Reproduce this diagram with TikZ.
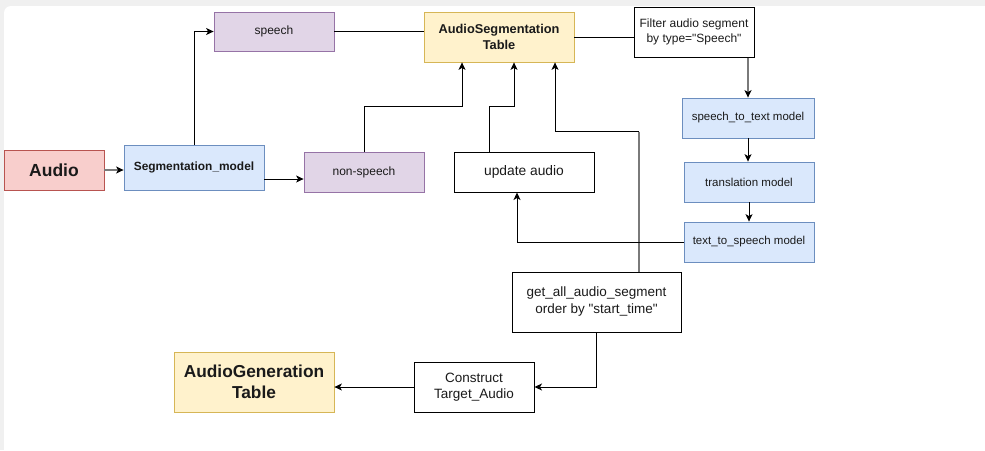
\documentclass[tikz,border=0pt]{standalone}
\usepackage{fontspec}
\setmainfont{Liberation Sans}
\usetikzlibrary{arrows.meta,calc}
\definecolor{redfill}{HTML}{F8CECC}\definecolor{redline}{HTML}{B85450}
\definecolor{bluefill}{HTML}{DAE8FC}\definecolor{blueline}{HTML}{6C8EBF}
\definecolor{purpfill}{HTML}{E1D5E7}\definecolor{purpline}{HTML}{9673A6}
\definecolor{yelfill}{HTML}{FFF2CC}\definecolor{yelline}{HTML}{D6B656}
\definecolor{txt}{HTML}{1A1A1A}
\definecolor{grayline}{HTML}{7A7A7A}
\tikzset{
  box/.style={rectangle,draw,inner sep=0pt,align=center,text=txt,line width=0.8pt},
  redbox/.style={box,fill=redfill,draw=redline},
  bluebox/.style={box,fill=bluefill,draw=blueline},
  purpbox/.style={box,fill=purpfill,draw=purpline},
  yelbox/.style={box,fill=yelfill,draw=yelline},
  plainbox/.style={box,fill=white,draw=black,line width=1pt},
  arr/.style={-{Stealth[length=7.5pt,width=7pt,inset=2pt]},line width=1pt,draw=black},
  grayarr/.style={-{Stealth[length=7.5pt,width=7pt,inset=2pt,color=black]},line width=1.6pt,draw=grayline},
  conn/.style={line width=1pt,draw=black},
  grayconn/.style={line width=1.6pt,draw=grayline},
}
\begin{document}
\begin{tikzpicture}[x=1pt,y=-1pt]
\useasboundingbox (0,0) rectangle (985,450);
\fill[gray!12] (0,0) rectangle (985,450);
\fill[white,rounded corners=7pt] (4,6) rectangle (1000,470);
% nodes
\node[redbox,minimum width=100pt,minimum height=40pt,font=\fontsize{17.5}{20}\selectfont\bfseries] (audio) at (54,170) {Audio};
\node[bluebox,minimum width=140pt,minimum height=45pt,font=\fontsize{11.9}{14}\selectfont\bfseries] (seg) at (194,167.5) {Segmentation\_model};
\node[purpbox,minimum width=120pt,minimum height=39pt,font=\fontsize{12}{14}\selectfont] (speech) at (274,31.5) {speech};
\node[purpbox,minimum width=120pt,minimum height=40pt,font=\fontsize{12}{14}\selectfont] (ns) at (364,172) {non-speech};
\node[yelbox,minimum width=150pt,minimum height=50pt,font=\fontsize{12.8}{15.5}\selectfont\bfseries] (aseg) at (499,37) {AudioSegmentation\\Table};
\node[plainbox,minimum width=120pt,minimum height=50pt,font=\fontsize{12}{15}\selectfont] (filt) at (694,32) {Filter audio segment\\by type=\textquotedbl Speech\textquotedbl};
\node[bluebox,minimum width=132pt,minimum height=40pt,font=\fontsize{11.5}{14}\selectfont] (s2t) at (748,118) {speech\_to\_text model};
\node[bluebox,minimum width=130pt,minimum height=40pt,font=\fontsize{11.5}{14}\selectfont] (tr) at (749,182) {translation model};
\node[bluebox,minimum width=130pt,minimum height=40pt,font=\fontsize{11.5}{14}\selectfont] (t2s) at (749,242) {text\_to\_speech model};
\node[plainbox,minimum width=140pt,minimum height=40pt,font=\fontsize{13.8}{16}\selectfont] (upd) at (524,172) {update audio};
\node[plainbox,minimum width=169pt,minimum height=60pt,font=\fontsize{13.5}{17}\selectfont] (get) at (596.5,302) {get\_all\_audio\_segment\\order by \textquotedbl start\_time\textquotedbl};
\node[plainbox,minimum width=120pt,minimum height=50pt,font=\fontsize{13.5}{16.5}\selectfont] (con) at (474,387) {Construct\\Target\_Audio};
\node[yelbox,minimum width=160pt,minimum height=60pt,font=\fontsize{17.3}{21}\selectfont\bfseries] (gen) at (254,382) {AudioGeneration\\Table};
% connectors
\draw[grayarr] (audio.east) -- (audio.east -| seg.west);
\draw[arr] (seg.north) |- (speech.west);
\draw[arr] ([yshift=-11.5pt]seg.east) -- ([yshift=-7pt]ns.west);
\draw[conn] (speech.east) -- (speech.east -| aseg.west);
\draw[arr] (ns.north) -- ++(0,-45) -| ([xshift=-37pt]aseg.south);
\draw[arr] ([xshift=-35pt]upd.north) -- ++(0,-45) -| ([xshift=15pt]aseg.south);
\draw[grayconn] ([xshift=42.5pt]get.north) -- ++(0,-140) coordinate (gbend);
\draw[arr] (gbend) -| ([xshift=56pt]aseg.south);
\draw[conn] (aseg.east) -- (aseg.east -| filt.west);
\draw[grayarr] (s2t.north |- filt.south) -- (s2t.north);
\draw[arr] (s2t.south) -- (s2t.south |- tr.north);
\draw[arr] (tr.south) -- (t2s.north);
\draw[arr] (t2s.west) -| ([xshift=-7pt]upd.south);
\draw[arr] (get.south) |- (con.east);
\draw[arr] (con.west) -- (con.west -| gen.east);
\end{tikzpicture}
\end{document}
